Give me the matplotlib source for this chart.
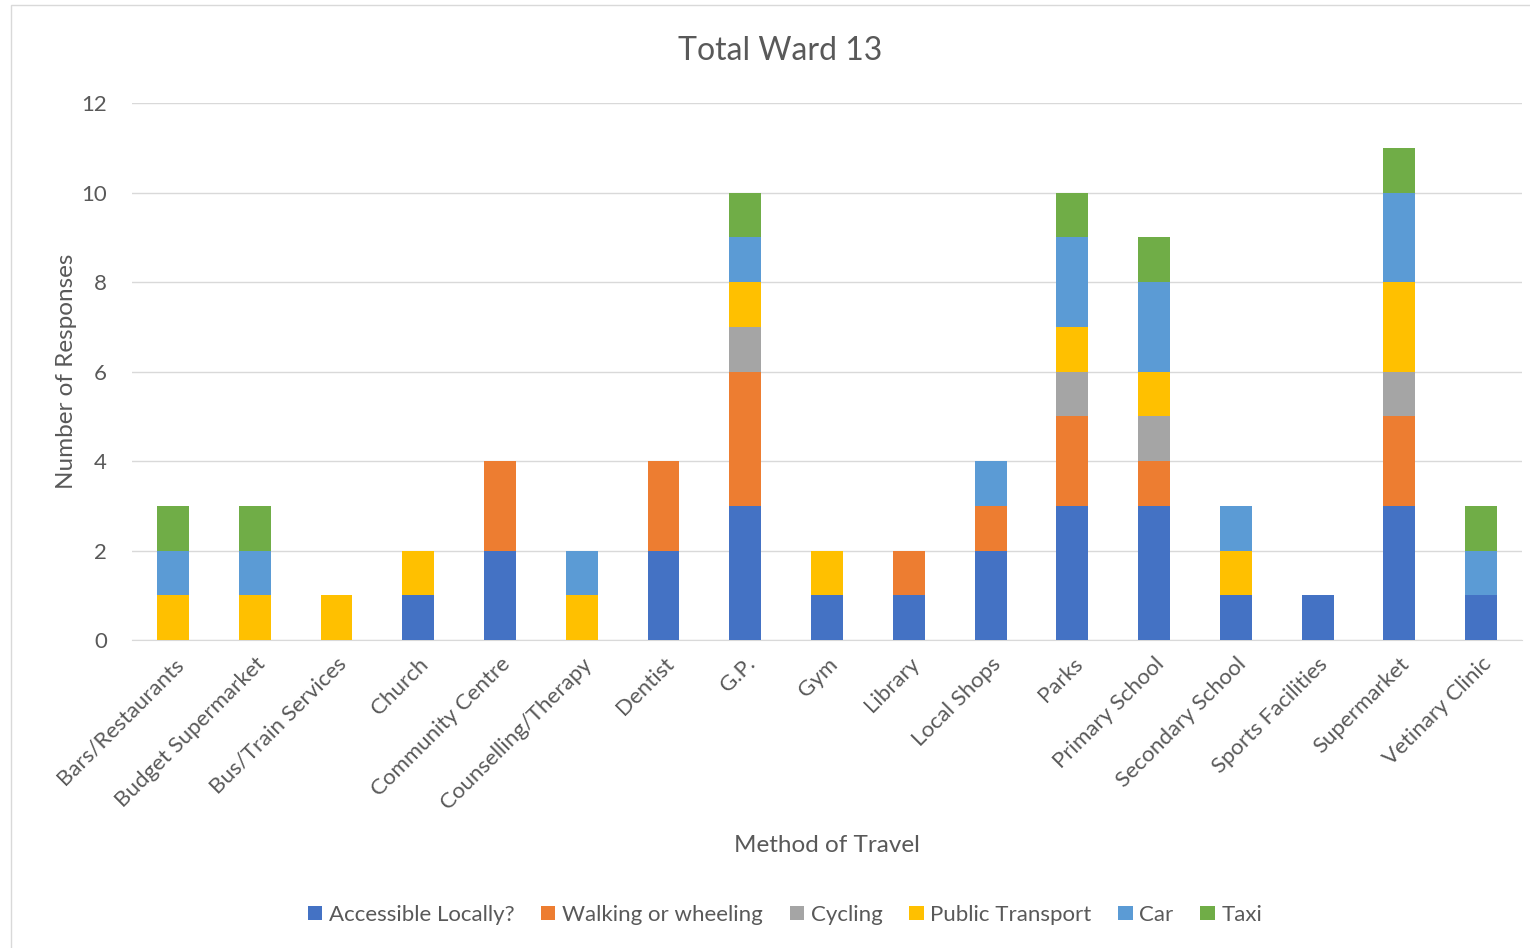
import numpy as np
import matplotlib
matplotlib.use('Agg')
import matplotlib.pyplot as plt
from matplotlib.patches import Rectangle

plt.rcParams['font.family'] = ['Lato', 'DejaVu Sans']

categories = ["Bars/Restaurants", "Budget Supermarket", "Bus/Train Services", "Church",
              "Community Centre", "Counselling/Therapy", "Dentist", "G.P.", "Gym",
              "Library", "Local Shops", "Parks", "Primary School", "Secondary School",
              "Sports Facilities", "Supermarket", "Vetinary Clinic"]

accessible = [0, 0, 0, 1, 2, 0, 2, 3, 1, 1, 2, 3, 3, 1, 1, 3, 1]
walking = [0, 0, 0, 0, 2, 0, 2, 3, 0, 1, 1, 2, 1, 0, 0, 2, 0]
cycling = [0, 0, 0, 0, 0, 0, 0, 1, 0, 0, 0, 1, 1, 0, 0, 1, 0]
public_transport = [1, 1, 1, 1, 0, 1, 0, 1, 1, 0, 0, 1, 1, 1, 0, 2, 0]
car = [1, 1, 0, 0, 0, 1, 0, 1, 0, 0, 1, 2, 2, 1, 0, 2, 1]
taxi = [1, 1, 0, 0, 0, 0, 0, 1, 0, 0, 0, 1, 1, 0, 0, 1, 1]

series = [
    ("Accessible Locally?", accessible, "#4472C4"),
    ("Walking or wheeling", walking, "#ED7D31"),
    ("Cycling", cycling, "#A5A5A5"),
    ("Public Transport", public_transport, "#FFC000"),
    ("Car", car, "#5B9BD5"),
    ("Taxi", taxi, "#70AD47"),
]

text_color = "#595959"

fig = plt.figure(figsize=(15.3, 9.48), dpi=100)
ax = fig.add_axes([0.0863, 0.3249, 0.9085, 0.5664])

x = np.arange(len(categories))
bottom = np.zeros(len(categories))
for name, vals, color in series:
    vals = np.array(vals, dtype=float)
    ax.bar(x, vals, 0.39, bottom=bottom, color=color, label=name, zorder=3)
    bottom += vals

ax.set_xlim(-0.5, len(categories) - 0.5)
ax.set_ylim(0, 12)
ax.set_yticks(range(0, 13, 2))
ax.grid(axis='y', color="#D9D9D9", linewidth=1, zorder=0)
for s in ['top', 'right', 'left']:
    ax.spines[s].set_visible(False)
ax.spines['bottom'].set_color("#D9D9D9")
ax.tick_params(axis='both', length=0, labelsize=16, colors=text_color)
ax.tick_params(axis='y', pad=18)
ax.tick_params(axis='x', pad=10)
ax.set_xticks(x)
ax.set_xticklabels(categories, rotation=45, ha='right', rotation_mode='anchor')

fig.suptitle("Total Ward 13", fontsize=23, color=text_color, x=0.51, y=0.946, va='center')
ax.set_ylabel("Number of Responses", fontsize=17.5, color=text_color, labelpad=3)
ax.set_xlabel("Method of Travel", fontsize=17.5, color=text_color, labelpad=16)

fig.legend(loc='center', bbox_to_anchor=(0.513, 0.035), ncol=6, frameon=False,
           fontsize=16, labelcolor=text_color, handlelength=0.65, handleheight=0.65,
           handletextpad=0.3, columnspacing=1.2)

fig.patches.append(Rectangle((0.007, -0.01), 1.0, 1.005, transform=fig.transFigure,
                             fill=False, edgecolor="#D9D9D9", linewidth=1))

fig.savefig("out.png", dpi=100)
